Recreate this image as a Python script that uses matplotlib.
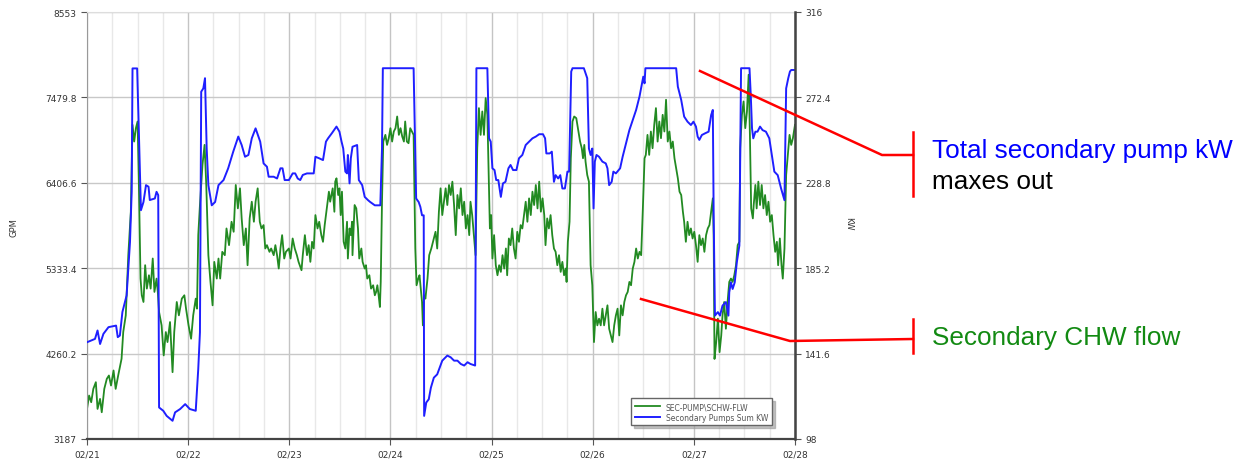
import matplotlib
matplotlib.use("Agg")
import matplotlib.pyplot as plt
from matplotlib.lines import Line2D

# hours since 02/21 00:00 and readings
pump_hours = [
    0.0, 1.9, 2.5, 3.1, 3.9, 5.1, 6.9, 7.3, 7.8, 8.4, 9.4, 10.2, 10.6, 10.8, 11.9, 12.2, 12.8, 13.4, 14.0, 14.6,
    14.9, 16.1, 16.5, 16.9, 17.1, 18.1, 18.9, 20.3, 20.9, 22.1, 23.3, 24.4, 25.8, 26.4, 26.8, 27.1, 27.6, 28.0,
    28.4, 28.8, 29.6, 30.4, 31.2, 32.4, 33.5, 34.7, 35.9, 36.7, 37.5, 38.3, 39.1, 40.0, 41.1,
    41.9, 42.7, 43.1, 44.3, 45.1, 45.9, 46.4, 46.9, 47.9, 48.8, 49.4, 50.0, 50.6, 51.2, 52.2, 53.8, 54.2, 55.1,
    56.0, 56.7, 57.2, 58.1, 59.2, 59.9, 60.4, 60.8, 61.3, 61.7, 61.9, 62.3, 62.6, 63.0, 64.1, 64.5, 65.3, 65.9,
    66.7, 67.2, 68.3, 69.6, 70.0, 70.2, 77.5, 78.1, 78.7, 79.1, 79.5, 79.9, 80.0, 80.5, 81.1, 81.6, 82.3, 83.1,
    84.3, 85.5, 86.3, 87.1, 87.9, 88.7, 89.5, 90.3, 91.0, 92.1, 92.4, 95.0, 95.4, 95.8, 96.2, 96.7, 97.1, 97.6,
    98.2, 98.7, 99.3, 100.0, 100.5, 101.1, 101.9, 102.5, 103.3, 104.1, 104.9, 105.7, 106.5, 107.3, 108.2, 108.7,
    109.0, 109.8, 110.3, 110.8, 111.2, 111.8, 112.3, 112.8, 113.4, 114.0, 114.4, 114.9, 115.2, 117.9, 118.7,
    119.1, 119.5, 119.9, 120.2, 120.5, 120.9, 121.5, 122.3, 123.1, 123.5, 123.9, 124.5, 124.9,
    125.5, 126.5, 127.1, 127.9, 128.7, 129.5, 130.3, 131.1, 131.7, 132.0, 132.3, 132.5, 139.8, 140.2, 141.0,
    141.7, 142.5, 143.3, 143.9, 144.5, 144.9, 145.3, 145.9, 146.7, 147.5, 148.1, 148.5, 148.7, 149.0, 149.7,
    150.2, 150.8, 151.6, 152.2, 152.4, 152.8, 153.2, 153.7, 154.2, 154.8, 155.2, 157.2, 157.5, 157.8, 158.1,
    158.6, 159.1, 159.7, 160.3, 161.1, 161.9, 162.5, 163.1, 163.9, 164.7, 165.5, 165.9, 166.4, 166.8, 167.1, 168.0,
]
pump_kw = [
    147.4, 149.1, 153.4, 146.5, 151.7, 155.1, 155.9, 150.0, 150.8, 162.8, 171.3, 198.5, 224.1, 287.2, 287.2,
    263.4, 214.8, 219.0, 227.6, 226.8, 220.0, 220.8, 224.2, 222.5, 114.1, 112.4, 109.8, 107.3, 111.6, 113.3,
    115.8, 113.3, 112.4, 133.8, 152.5, 275.3, 277.0, 282.2, 246.3, 227.6, 217.3, 219.0, 227.6, 230.2, 236.2,
    244.7, 252.4, 248.1, 242.1, 243.0, 251.5, 256.6, 249.8,
    238.7, 237.0, 231.9, 231.9, 231.0, 236.2, 236.2, 230.2, 230.2, 233.6, 233.6, 231.0, 230.2, 232.8, 233.6,
    233.6, 242.1, 241.3, 240.4, 249.8, 251.5, 254.1, 257.5, 254.9, 249.8, 246.3, 234.5, 233.6, 243.0, 228.5,
    241.3, 247.2, 248.1, 230.2, 227.6, 221.6, 219.9, 219.0, 217.3, 217.3, 246.3, 287.3, 287.3, 220.8, 219.0,
    216.5, 212.2, 212.2, 109.8, 116.6, 118.3, 124.2, 129.3, 131.0,
    138.0, 140.6, 139.7, 138.0, 138.0, 136.3, 135.5, 137.2, 136.3, 135.5, 287.3, 287.3, 251.5, 249.8, 236.2,
    235.3, 230.2, 230.2, 221.6, 228.5, 229.3, 236.2, 237.9, 235.3, 235.3, 241.3, 243.0, 248.1, 249.8, 251.5,
    252.4, 253.6, 253.6, 251.5, 243.8, 243.8, 244.7, 229.3, 232.7, 231.0, 232.7, 225.9, 225.9, 234.5, 234.5,
    285.6, 287.3, 287.3, 282.2, 246.3, 243.0, 246.3, 215.7, 239.6, 243.0, 242.1, 239.6, 238.7, 236.2, 227.6,
    229.3, 234.5,
    233.6, 236.2, 242.1, 248.9, 255.7, 260.8, 266.0, 272.8, 279.6, 283.0, 279.6, 287.3, 287.3, 277.9, 271.1,
    262.6, 260.0, 258.3, 260.0, 257.5, 252.4, 250.7, 253.2, 254.1, 254.9, 263.4, 266.0, 212.2, 161.0, 162.8,
    161.0, 166.1, 167.9, 161.0, 172.9, 178.0, 174.6, 178.0, 188.3, 196.8, 287.3, 287.3, 273.7, 256.6, 251.5,
    254.9, 254.9, 257.5, 255.7, 254.9, 251.5, 243.0, 234.5, 232.7, 225.9, 219.9, 277.0, 282.2, 285.6, 286.4, 286.4,
]

flow_hours = [
    0.0, 0.5, 1.0, 1.5, 2.1, 2.5, 3.1, 3.5, 4.1, 4.7, 5.2, 5.7, 6.3, 6.8, 7.4, 8.2, 8.6, 9.2, 9.8, 10.4, 10.8,
    11.2, 11.6, 12.0, 12.3, 12.7, 13.0, 13.4, 13.8, 14.2, 14.7, 15.1, 15.6, 16.0, 16.5, 16.8, 17.1, 17.7, 18.2,
    18.7, 19.1, 19.7, 20.3, 20.7, 21.3, 21.8, 22.5, 23.1, 23.5, 24.1, 24.7, 25.2, 25.8, 26.1, 26.4, 26.8, 27.4,
    27.9, 28.3, 28.8, 29.3, 29.8, 30.2, 30.8, 31.2, 31.6, 32.1, 32.7, 33.1, 33.7, 34.3, 34.8, 35.3, 35.8, 36.3,
    36.7, 37.2, 37.7, 38.1, 38.6, 39.1, 39.6, 40.0, 40.5, 41.0, 41.4,
    41.9, 42.3, 42.7, 43.3, 43.7, 44.3, 44.7, 45.1, 45.5, 45.9, 46.3, 46.8, 47.2, 47.9, 48.3, 48.8, 49.3, 49.8,
    50.2, 50.9, 51.2, 51.7, 52.2, 52.6, 53.0, 53.4, 53.8, 54.2, 54.7, 55.1, 55.6, 56.0, 56.4, 56.9, 57.4, 57.7,
    58.3, 58.7, 58.9, 59.2, 59.6, 59.9, 60.2, 60.5, 60.9, 61.3, 61.7, 61.9, 62.3, 62.6, 62.9, 63.0, 63.5, 63.9,
    64.3, 64.6, 65.1, 65.4, 65.9, 66.2, 66.5, 67.0, 67.4, 67.9, 68.3, 68.6, 68.9, 69.2, 69.5, 69.7, 70.0, 70.3,
    70.8, 71.2, 71.6, 72.0, 72.4, 72.8, 73.2, 73.6, 74.0, 74.4, 74.8, 75.2, 75.5, 75.9, 76.3, 76.7, 77.1, 77.5,
    77.9, 78.2, 78.6, 78.9, 79.2, 79.5, 79.7, 80.0, 80.3, 80.8, 81.2, 81.7, 82.3, 82.7, 83.1, 83.5,
    83.9, 84.3, 84.7, 85.1, 85.5, 85.9, 86.3, 86.7, 87.1, 87.5, 87.9, 88.3, 88.7, 89.1, 89.5, 89.9, 90.3, 90.7,
    91.0, 91.4, 91.8, 92.2, 92.6, 93.0, 93.4, 93.8, 94.2, 94.6, 95.0, 95.4, 95.6, 95.9, 96.2, 96.6, 97.0, 97.4,
    97.8, 98.2, 98.6, 99.0, 99.4, 99.7, 100.1, 100.5, 100.9, 101.3, 101.7, 102.1, 102.5, 102.9, 103.3, 103.7,
    104.1, 104.5, 104.9, 105.3, 105.7, 106.1, 106.5, 106.9, 107.3, 107.7, 108.1, 108.5, 108.8, 109.2, 109.6,
    110.0, 110.4, 110.8, 111.2, 111.6, 112.0, 112.4, 112.8, 113.2, 113.6, 113.8, 114.1, 114.5, 114.8, 115.2,
    115.6, 116.1, 116.6, 117.0, 117.4, 117.7, 118.0, 118.3, 118.7, 119.1, 119.5, 119.9, 120.3, 120.7, 121.1,
    121.5, 121.9, 122.3, 122.7, 123.1, 123.5, 123.9, 124.3, 124.7, 125.1,
    125.5, 125.9, 126.3, 126.7, 127.1, 127.5, 127.9, 128.3, 128.7, 129.1, 129.5, 129.9, 130.3, 130.7, 131.1,
    131.5, 131.9, 132.3, 132.6, 133.0, 133.4, 133.8, 134.2, 134.6, 135.0, 135.4, 135.8, 136.2, 136.6, 137.0,
    137.4, 137.8, 138.2, 138.6, 139.0, 139.4, 139.8, 140.2, 140.6, 141.0, 141.4, 141.7, 142.1, 142.5, 142.9,
    143.3, 143.7, 144.1, 144.5, 144.9, 145.3, 145.7, 146.1, 146.5, 146.9, 147.3, 147.7, 148.1, 148.5, 148.7,
    148.9, 149.3, 149.7, 150.1, 150.5, 150.8, 151.2, 151.6, 152.0, 152.4, 152.8, 153.2, 153.6, 154.0, 154.4,
    154.8, 155.0, 155.4, 155.8, 156.2, 156.6, 157.0, 157.3, 157.6, 158.0, 158.2, 158.6, 158.9, 159.3, 159.7,
    160.1, 160.5, 160.9, 161.3, 161.7, 162.1, 162.5, 162.9, 163.3, 163.7, 164.0, 164.4, 164.8, 165.1, 165.5,
    165.9, 166.3, 166.7, 167.1, 167.5, 168.0,
]
flow_gpm = [
    3565, 3733, 3649, 3817, 3901, 3565, 3691, 3523, 3817, 3943, 3985, 3859, 4048, 3817, 3985, 4195, 4531, 4741,
    5497, 6043, 7135, 6925, 7093, 7177, 6421, 5203, 4993, 4909, 5371, 5077, 5245, 5077, 5455, 5035, 5203, 5035,
    4783, 4615, 4237, 4531, 4405, 4657, 4027, 4531, 4909, 4741, 4951, 4993, 4825, 4615, 4447, 4741, 4951, 4825,
    5749, 6127, 6631, 6883, 6379, 5497, 5161, 4867, 5413, 5203, 5455, 5203, 5539, 5497, 5833, 5623, 5917, 5791,
    6379, 6085, 6337, 5959, 5623, 5833, 5371, 5959, 6169, 5917, 6169, 6337, 5917, 5833,
    5875, 5581, 5623, 5539, 5581, 5497, 5623, 5497, 5329, 5581, 5749, 5455, 5539, 5581, 5455, 5707, 5581, 5497,
    5413, 5308, 5497, 5749, 5497, 5623, 5413, 5665, 5581, 6001, 5833, 5917, 5749, 5665, 5875, 6085, 6295, 6169,
    6337, 6043, 6421, 6463, 6253, 6337, 6001, 6295, 5665, 5581, 5917, 5455, 5833, 5749, 5917, 5497, 6127, 6085,
    5833, 5455, 5581, 5413, 5329, 5371, 5203, 5245, 5077, 5119, 4993, 5035, 5119, 4993, 4846, 5161, 6169, 6925,
    7009, 6883, 6967, 7093, 6925, 7051, 7093, 7240, 7009, 7093, 6988, 6925, 7177, 6925, 6904, 7093, 7051, 7009,
    5581, 5119, 5203, 5245, 5077, 4909, 4615, 4993, 4951, 5203, 5497, 5581, 5707, 5791, 5581, 6043,
    6337, 6001, 6169, 6337, 6127, 6379, 6253, 6421, 6127, 5749, 6253, 6085, 6337, 6001, 6169, 5833, 6001, 5749,
    6169, 6001, 5749, 5497, 6841, 7345, 7009, 7303, 7009, 7471, 7261, 6337, 5833, 6001, 5455, 5749, 5371, 5245,
    5371, 5287, 5497, 5329, 5581, 5245, 5707, 5623, 5833, 5581, 5455, 5791, 5665, 5875, 5833, 6001,
    6169, 5917, 6211, 6001, 6295, 6127, 6379, 6085, 6421, 6043, 6211, 6001, 5623, 5959, 5833,
    6001, 5749, 5581, 5539, 5371, 5497, 5287, 5413, 5245, 5329, 5161, 5665, 5917, 6715, 7177,
    7240, 7219, 7051, 6925, 6841, 6715, 6883, 6673, 6505, 6421, 5371, 5119, 4405, 4783, 4615,
    4699, 4615, 4825, 4615, 4741, 4867, 4573, 4489, 4405, 4615,
    4741, 4825, 4489, 4867, 4741, 4909, 4993, 5035, 5161, 5119, 5329, 5413, 5581, 5455, 5539,
    5497, 6085, 6715, 6757, 7009, 6757, 7051, 6841, 7135, 7345, 6925, 7177, 6967, 7261, 7051,
    7450, 6925, 7051, 6841, 6925, 6715, 6589, 6463, 6295, 6253, 6043, 5917, 5665, 5917, 5749,
    5833, 5707, 5791, 5623, 5413, 5749, 5623, 5707, 5539, 5749, 5833, 5875, 6043, 6211, 5749,
    4193, 4405, 4699, 4279, 4489, 4741, 4909, 4573, 4909, 5161, 5203, 5161, 5245, 5371, 5623,
    5665, 6841, 7261, 7429, 7093, 7303, 7765, 7009, 6085, 5959, 6127, 6379, 6085, 6421, 6127,
    6379, 6085, 6253, 6001, 6169, 5917, 6001, 5749, 5539, 5665, 5371, 5707, 5371, 5203, 5581,
    6505, 6757, 7009, 6883, 6967, 7135,
]

gpm_ticks = [3187, 4260.2, 5333.4, 6406.6, 7479.8, 8553]
kw_ticks = [98, 141.6, 185.2, 228.8, 272.4, 316]
day_labels = ["02/21", "02/22", "02/23", "02/24", "02/25", "02/26", "02/27", "02/28"]

W, H = 1249, 460
fig = plt.figure(figsize=(W / 100, H / 100), dpi=100)
ax = fig.add_axes([87 / W, 20 / H, 708 / W, 427 / H])
ax2 = ax.twinx()

ax.plot(flow_hours, flow_gpm, color="#228a22", lw=1.3, label="SEC-PUMP\\SCHW-FLW")
ax2.plot(pump_hours, pump_kw, color="#1f1fff", lw=1.4, label="Secondary Pumps Sum KW")

ax.set_xlim(0, 168)
ax.set_ylim(3187, 8553)
ax2.set_ylim(98, 316)

ax.set_xticks([24 * i for i in range(8)])
ax.set_xticklabels(day_labels)
ax.set_xticks([6 * i for i in range(29) if i % 4], minor=True)
ax.set_yticks(gpm_ticks)
ax.set_yticklabels(["3187", "4260.2", "5333.4", "6406.6", "7479.8", "8553"])
ax2.set_yticks(kw_ticks)
ax2.set_yticklabels(["98", "141.6", "185.2", "228.8", "272.4", "316"])

ax.grid(which="major", axis="x", color="#c4c4c4", lw=1.0)
ax.grid(which="minor", axis="x", color="#e8e8e8", lw=1.0)
ax.grid(which="major", axis="y", color="#c8c8c8", lw=1.0)
ax.set_axisbelow(True)

for a in (ax, ax2):
    a.tick_params(labelsize=6.5, labelcolor="#333333", color="#555555", length=4, width=0.8)
ax.tick_params(axis="x", which="minor", length=0)

ax.spines["top"].set_color("#dddddd")
ax.spines["left"].set_color("#999999")
ax.spines["bottom"].set_color("#444444")
ax.spines["bottom"].set_linewidth(1.6)
ax2.spines["right"].set_color("#444444")
ax2.spines["right"].set_linewidth(1.8)
for s in ("top", "left", "bottom"):
    ax2.spines[s].set_visible(False)

fig.text(14 / W, 1 - 228 / H, "GPM", rotation=90, fontsize=6, color="#333333", ha="center", va="center")
fig.text(849 / W, 1 - 224 / H, "KW", rotation=270, fontsize=6, color="#333333", ha="center", va="center")

h1, l1 = ax.get_legend_handles_labels()
h2, l2 = ax2.get_legend_handles_labels()
leg = ax2.legend(h1 + h2, l1 + l2, loc="lower right", bbox_to_anchor=(0.973, 0.023), fontsize=5.5,
                 fancybox=False, shadow={"color": "#999999", "alpha": 0.6}, edgecolor="#666666",
                 handlelength=3.2, labelspacing=0.2, borderpad=0.5)
for t in leg.get_texts():
    t.set_color("#555555")

# callout lines
def fig_line(xs, ys):
    fig.add_artist(Line2D([x / W for x in xs], [1 - y / H for y in ys], color="red", lw=1.8,
                          transform=fig.transFigure))

fig_line([700, 882, 913], [72, 156, 156])
fig_line([913, 913], [133, 197])
fig_line([641, 790, 913], [300, 342, 340])
fig_line([913, 913], [320, 354])

fam = ["Liberation Sans", "DejaVu Sans"]
fig.text(932 / W, 1 - 158 / H, "Total secondary pump kW", color="#0000ff", fontsize=18.8, family=fam, va="baseline")
fig.text(932 / W, 1 - 189 / H, "maxes out", color="black", fontsize=18.8, family=fam, va="baseline")
fig.text(932 / W, 1 - 345 / H, "Secondary CHW flow", color="#128a12", fontsize=18.8, family=fam, va="baseline")

fig.savefig("out.png", dpi=100)
